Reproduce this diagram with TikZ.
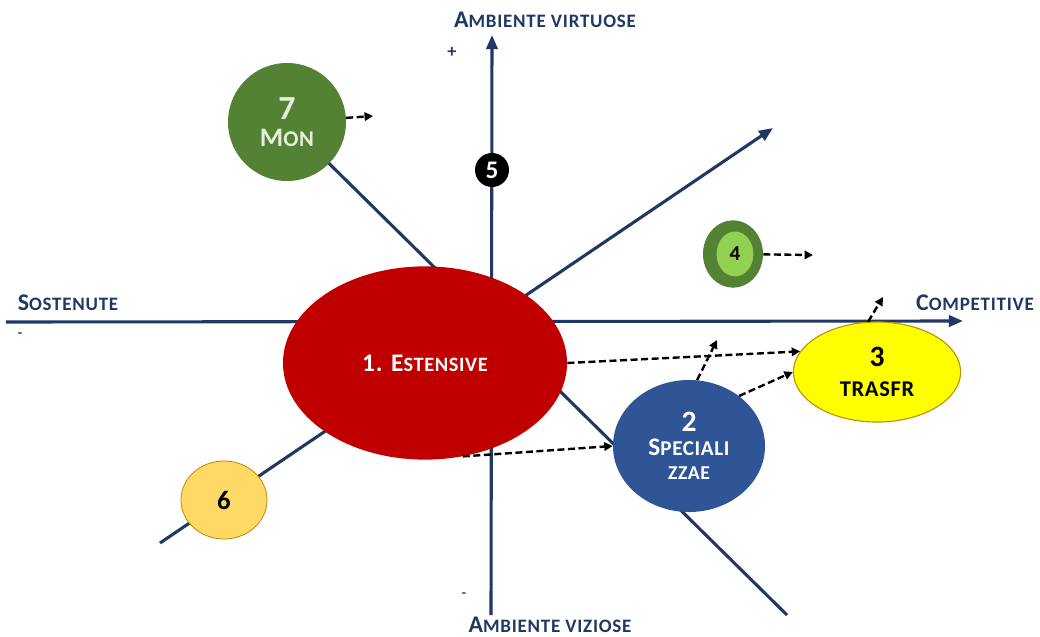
\documentclass[tikz,border=0pt]{standalone}
\usepackage{fontspec}
\setmainfont{Carlito}
\usetikzlibrary{shapes.geometric,arrows.meta}
\definecolor{blunotte}{RGB}{31,56,100}
\definecolor{rosso}{RGB}{192,0,0}
\definecolor{blu}{RGB}{47,85,151}
\definecolor{giallo}{RGB}{255,255,0}
\definecolor{oro}{RGB}{191,144,0}
\definecolor{verde}{RGB}{84,130,53}
\definecolor{verdechiaro}{RGB}{146,208,80}
\definecolor{sabbia}{RGB}{255,217,102}
\definecolor{verdepallido}{RGB}{226,240,217}
\newcommand{\maiu}[4]{{\fontsize{#1}{#1}\selectfont #3}{\fontsize{#2}{#2}\selectfont #4}} % 小型大写
\begin{document}
\begin{tikzpicture}[x=0.025cm, y=-0.025cm,
    asse/.style={draw=blunotte, line width=2.2pt},
    punta/.style={-{Triangle[length=10pt,width=8pt]}},
    freccia/.style={draw=black, line width=1.7pt, dash pattern=on 5pt off 2.5pt, -{Triangle[length=6pt,width=6pt]}},
    bolla/.style={ellipse, inner sep=0pt, align=center, font=\bfseries\addfontfeature{LetterSpace=3}},
    titolo/.style={text=blunotte, font=\bfseries\addfontfeature{LetterSpace=4}, inner sep=0pt}]
  \useasboundingbox (0,0) rectangle (1040,637); % 画布
  \coordinate (nord) at (492,35); % 上
  \coordinate (sud) at (491,615); % 下
  \coordinate (ovest) at (6,322); % 左
  \coordinate (est) at (963,321); % 右
  \coordinate (sw) at (160,543); % 斜线起点
  \coordinate (ne) at (773,128); % 斜线终点
  \coordinate (c7) at (287,122); % 7 的中心
  \coordinate (se) at (787,615); % 另一斜线终点
  \draw[asse, punta] (sud) -- (nord); % 纵轴
  \draw[asse, punta] (ovest) -- (est); % 横轴
  \draw[asse, punta] (sw) -- (ne); % 斜轴
  \draw[asse] (c7) -- (se); % 斜线
  \node[titolo] (virtuose) at (545,20) {\maiu{17}{13.5}{A}{MBIENTE VIRTUOSE}};
  \node[titolo] (viziose) at (550,625) {\maiu{17}{13.5}{A}{MBIENTE VIZIOSE}};
  \node[titolo] (sostenute) at (68,303) {\maiu{17}{13.5}{S}{OSTENUTE}};
  \node[titolo] (competitive) at (975,303) {\maiu{17}{13.5}{C}{OMPETITIVE}};
  \node[titolo, font=\bfseries\fontsize{13}{13}\selectfont] (piu) at (452,52) {+};
  \node[titolo] (menosx) at (20,335) {-};
  \node[titolo] (menogiu) at (464,595) {-};
  \node[bolla, fill=rosso, minimum width=7.1cm, minimum height=4.83cm, text=white] (uno) at (425,363) {\maiu{18}{14.5}{1. E}{STENSIVE}}; % 大椭圆
  \node[bolla, fill=blu, minimum width=3.8cm, minimum height=3.3cm, text=white] (due) at (689,446) {{\fontsize{21}{21}\selectfont 2}\\[5pt] \maiu{18}{15}{S}{PECIALI}\\[5pt] {\fontsize{14}{14}\selectfont ZZAE}};
  \node[bolla, fill=giallo, draw=oro, line width=0.8pt, minimum width=4.18cm, minimum height=2.5cm] (tre) at (877,372) {{\fontsize{21}{21}\selectfont 3}\\[9pt] {\fontsize{16}{16}\selectfont TRASFR}};
  \node[bolla, fill=verde, minimum width=1.5cm, minimum height=1.68cm] (quattro) at (733,254) {};
  \node[bolla, fill=verdechiaro, minimum width=0.92cm, minimum height=1.12cm, font=\bfseries\fontsize{15}{15}\selectfont] (quattrodentro) at (735,254) {4};
  \node[circle, fill=black, minimum size=0.85cm, inner sep=0pt, text=white, font=\bfseries\fontsize{18}{18}\selectfont] (cinque) at (492,170) {5};
  \node[bolla, fill=sabbia, draw=oro, line width=0.6pt, minimum width=2.15cm, minimum height=1.95cm, font=\bfseries\fontsize{19}{19}\selectfont] (sei) at (224,500) {6};
  \node[bolla, fill=verde, minimum size=2.95cm, text=verdepallido] (sette) at (c7) {{\fontsize{24}{24}\selectfont 7}\\[6pt] \maiu{19}{16}{M}{ON}};
  \coordinate (f7) at (373,116); % 箭头终点
  \coordinate (f4) at (813,255);
  \coordinate (f2) at (717,340);
  \coordinate (f3) at (883,297);
  \draw[freccia] (sette) -- (f7);
  \draw[freccia] (quattro) -- (f4);
  \draw[freccia] (uno.east) -- (tre.165);
  \draw[freccia] (uno.-68) -- (due.west);
  \draw[freccia] (due.83) -- (f2);
  \draw[freccia] (due.45) -- (tre.west);
  \draw[freccia] (tre.100) -- (f3);
\end{tikzpicture}
\end{document}
